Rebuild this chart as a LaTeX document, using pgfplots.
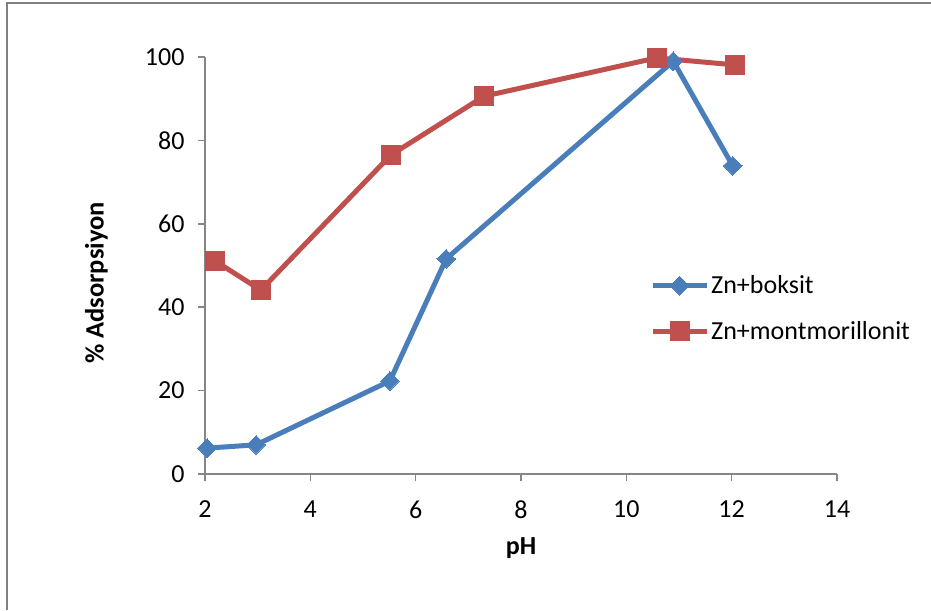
\documentclass[border=0pt]{standalone}
\usepackage{fontspec}
\setmainfont{Carlito}
\usepackage{pgfplots}
\pgfplotsset{compat=1.18}
\definecolor{xblue}{RGB}{74,126,187}
\definecolor{xred}{RGB}{192,80,77}
\definecolor{xgray}{RGB}{134,134,134}
\definecolor{fgray}{RGB}{128,128,128}
\begin{document}
\begin{tikzpicture}[x=1pt,y=1pt]
\useasboundingbox (0,0) rectangle (931,610);
\draw[fgray, line width=2.5pt] (7,0) -- (7,607) -- (931,607);
\begin{axis}[
  at={(205pt,136pt)}, anchor=south west,
  scale only axis, width=632pt, height=417pt,
  xmin=2, xmax=14, ymin=0, ymax=100,
  xtick={2,4,...,14}, ytick={0,20,...,100},
  axis lines*=left,
  axis line style={-, draw=xgray, line width=1.5pt},
  tick style={draw=xgray, line width=1.5pt},
  major tick length=7pt, tick align=outside,
  clip=false,
  /pgf/number format/assume math mode=true,
  tick label style={font=\fontsize{26}{31}\selectfont},
  yticklabel style={xshift=-10pt},
  xticklabel style={yshift=-16pt},
  xlabel={\textbf{pH}}, ylabel={\textbf{\% Adsorpsiyon}},
  every axis x label/.style={at={(axis description cs:0.5,-0.177)}, anchor=center, font=\fontsize{26}{31}\selectfont},
  every axis y label/.style={at={(axis description cs:-0.1717,0.458)}, rotate=90, anchor=center, font=\fontsize{26.5}{31}\selectfont},
  legend style={at={(axis description cs:0.704,0.397)}, anchor=west, draw=none, fill=none,
    font=\fontsize{26}{31}\selectfont, row sep=22pt, inner sep=0pt, cells={anchor=west}},
  legend image code/.code={\draw[mark repeat=2,mark phase=2,#1] plot coordinates {(0pt,0pt) (27pt,0pt) (54pt,0pt)};},
]
\addplot[xblue, line width=5pt, mark=square*, mark size=6.6pt, mark options={solid, rotate=45, line width=0pt}] coordinates {
(2.04,6.2) (2.97,7.0) (5.51,22.3) (6.58,51.6) (10.89,99.0) (12.02,73.9)};
\addlegendentry{Zn+boksit}
\addplot[xred, line width=5pt, mark=square*, mark size=9.5pt, mark options={solid, line width=0pt}] coordinates {
(2.19,51.1) (3.06,44.1) (5.53,76.5) (7.30,90.6) (10.58,99.8) (12.06,98.1)};
\addlegendentry{Zn+montmorillonit}
\end{axis}
\end{tikzpicture}
\end{document}
